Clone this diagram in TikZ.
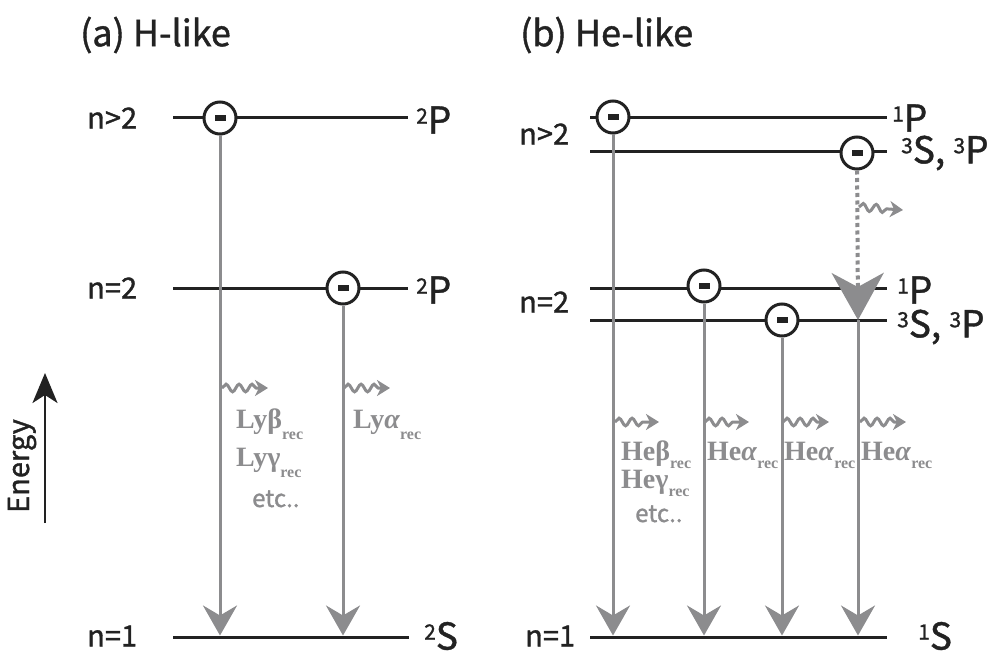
\documentclass[tikz,border=0pt]{standalone}
\usepackage{fontspec}
\setmainfont{Noto Sans CJK JP}[FakeBold=1.2]
\newfontfamily\serf{Liberation Serif}
\usetikzlibrary{arrows.meta,decorations.pathmorphing}
\definecolor{ink}{HTML}{222222}
\definecolor{gr}{HTML}{8C8C8E}
\newcommand{\sps}[2]{{\fontsize{21}{21}\selectfont\raisebox{10pt}{#1}}#2}
\newcommand{\recl}[2][-8pt]{{\serf\bfseries #2}{\serf\bfseries\fontsize{16}{16}\selectfont\raisebox{#1}{rec}}}
\begin{document}
\begin{tikzpicture}[x=1pt,y=-1pt,
  level/.style={draw=ink,line width=3pt},
  electron/.style={circle,draw=ink,line width=3pt,fill=white,minimum size=32pt,inner sep=0pt,text=ink},
  decay/.style={draw=gr,line width=3pt,-{Stealth[length=30pt,width=34pt,inset=10pt]},shorten >=1.5pt},
  wavy/.style={draw=gr,line width=3pt,decorate,decoration={snake,amplitude=3.8pt,segment length=13pt,post length=11pt},-{Stealth[length=13pt,width=16pt,inset=4pt]}},
  title/.style={inner sep=0pt,text=ink,font=\fontsize{36}{40}\selectfont},
  nlab/.style={inner sep=0pt,text=ink,font=\fontsize{29}{30}\selectfont},
  slab/.style={inner sep=0pt,text=ink,font=\fontsize{37}{38}\selectfont},
  glab/.style={inner sep=0pt,text=gr,font=\fontsize{28}{29}\selectfont},
  etclab/.style={inner sep=0pt,text=gr,font=\fontsize{24}{26}\selectfont},
  elab/.style={inner sep=0pt,text=ink,font=\fontsize{29}{30}\selectfont,rotate=90}
]
\useasboundingbox[fill=white] (0,0) rectangle (990,655);

% ---------- titles ----------
\node[title,anchor=west] (ta) at (80,35) {(a) H-like};
\node[title,anchor=west] (tb) at (520,35) {(b) He-like};

% ---------- energy axis ----------
\coordinate (en0) at (45,523);
\coordinate (en1) at (45,373);
\draw[ink,line width=2.5pt,-{Stealth[length=30pt,width=25pt,inset=8pt]}] (en0) -- (en1);
\node[elab] (energy) at (22,466) {Energy};

% ---------- (a) levels ----------
\coordinate (a3L) at (173,118); \coordinate (a3R) at (408,118);
\coordinate (a2L) at (173,288); \coordinate (a2R) at (408,288);
\coordinate (a1L) at (173,637); \coordinate (a1R) at (409,637);
\draw[level] (a3L) -- (a3R);
\draw[level] (a2L) -- (a2R);
\draw[level] (a1L) -- (a1R);
\node[nlab,anchor=west] (la3) at (87,118) {n>2};
\node[nlab,anchor=west] (la2) at (87,288) {n=2};
\node[nlab,anchor=west] (la1) at (87,636) {n=1};
\node[slab,anchor=west] (sa3) at (416,120) {\sps{2}{P}};
\node[slab,anchor=west] (sa2) at (416,290) {\sps{2}{P}};
\node[slab,anchor=west] (sa1) at (424,636) {\sps{2}{S}};

\node[electron] (ea1) at (220,118) {\rule[-2.75pt]{11pt}{5.5pt}};
\node[electron] (ea2) at (343,288) {\rule[-2.75pt]{11pt}{5.5pt}};
\draw[decay] (ea1) -- (ea1 |- a1L);
\draw[decay] (ea2) -- (ea2 |- a1L);

\coordinate (wa1s) at (222,388); \coordinate (wa1e) at (268,388);
\coordinate (wa2s) at (344,388); \coordinate (wa2e) at (390,388);
\draw[wavy] (wa1s) -- (wa1e);
\draw[wavy] (wa2s) -- (wa2e);
\node[glab,anchor=base west] (lyb) at (236,428) {\recl[-11pt]{Lyβ}};
\node[glab,anchor=base west] (lyg) at (236,466) {\recl[-11pt]{Lyγ}};
\node[etclab,anchor=base west] (etca) at (252,507) {etc..};
\node[glab,anchor=base west] (lya) at (353,428) {\recl[-11pt]{Ly\textit{α}}};

% ---------- (b) levels ----------
\coordinate (b3pL) at (590,118); \coordinate (b3pR) at (887,118);
\coordinate (b3sL) at (590,152); \coordinate (b3sR) at (887,152);
\coordinate (b2pL) at (590,288); \coordinate (b2pR) at (887,288);
\coordinate (b2sL) at (590,320); \coordinate (b2sR) at (887,320);
\coordinate (b1L) at (590,637); \coordinate (b1R) at (887,637);
\draw[level] (b3pL) -- (b3pR);
\draw[level] (b3sL) -- (b3sR);
\draw[level] (b2pL) -- (b2pR);
\draw[level] (b2sL) -- (b2sR);
\draw[level] (b1L) -- (b1R);
\node[nlab,anchor=west] (lb3) at (519,134) {n>2};
\node[nlab,anchor=west] (lb2) at (519,302) {n=2};
\node[nlab,anchor=west] (lb1) at (525,636) {n=1};
\node[slab,anchor=west] (sb3p) at (892,118) {\sps{1}{P}};
\node[slab,anchor=west] (sb3s) at (901,153) {\sps{3}{S}, \sps{3}{P}};
\node[slab,anchor=west] (sb2p) at (897,290) {\sps{1}{P}};
\node[slab,anchor=west] (sb2s) at (897,327) {\sps{3}{S}, \sps{3}{P}};
\node[slab,anchor=west] (sb1) at (918,636) {\sps{1}{S}};

\node[electron] (eb1) at (613,117) {\rule[-2.75pt]{11pt}{5.5pt}};
\node[electron] (eb2) at (857,153) {\rule[-2.75pt]{11pt}{5.5pt}};
\node[electron] (eb3) at (704,286) {\rule[-2.75pt]{11pt}{5.5pt}};
\node[electron] (eb4) at (782,320) {\rule[-2.75pt]{11pt}{5.5pt}};
\coordinate (tip) at (858,320);
\draw[draw=gr,line width=4pt,dash pattern=on 4pt off 3.5pt,-{Stealth[length=47pt,width=52pt,inset=14pt]}] (eb2) -- (tip);
\draw[decay] (eb1) -- (eb1 |- b1L);
\draw[decay] (eb3) -- (eb3 |- b1L);
\draw[decay] (eb4) -- (eb4 |- b1L);
\draw[decay] (tip) -- (tip |- b1L);

\coordinate (wb0s) at (859,207); \coordinate (wb0e) at (903,210);
\draw[wavy] (wb0s) -- (wb0e);
\coordinate (wb1s) at (615,422); \coordinate (wb1e) at (659,422);
\coordinate (wb2s) at (705,422); \coordinate (wb2e) at (749,422);
\coordinate (wb3s) at (783,422); \coordinate (wb3e) at (829,422);
\coordinate (wb4s) at (860,422); \coordinate (wb4e) at (906,422);
\draw[wavy] (wb1s) -- (wb1e);
\draw[wavy] (wb2s) -- (wb2e);
\draw[wavy] (wb3s) -- (wb3e);
\draw[wavy] (wb4s) -- (wb4e);
\node[glab,anchor=base west] (heb) at (621,460) {\recl{Heβ}};
\node[glab,anchor=base west] (heg) at (621,488) {\recl{Heγ}};
\node[etclab,anchor=base west] (etcb) at (635,522) {etc..};
\node[glab,anchor=base west] (hea1) at (707,460) {\recl{He\textit{α}}};
\node[glab,anchor=base west] (hea2) at (784,460) {\recl{He\textit{α}}};
\node[glab,anchor=base west] (hea3) at (861,460) {\recl{He\textit{α}}};
\end{tikzpicture}
\end{document}
